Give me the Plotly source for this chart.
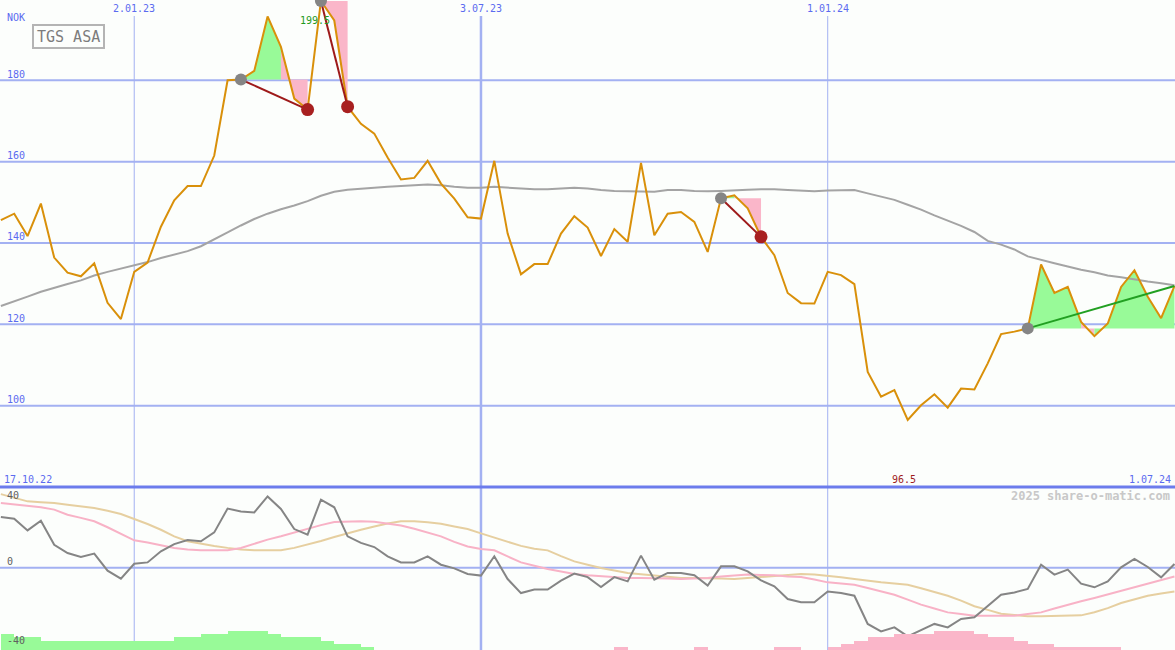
#!/usr/bin/env python3
"""
TGS ASA weekly chart in the share-o-matic style
"""

import pandas as pd
import plotly.graph_objs as go

# weekly closes (NOK), first week 24.10.22
dates = pd.date_range("2022-10-24", periods=89, freq="7D")

price = [
    145.6, 147.2, 141.7, 149.7, 136.4, 132.7, 131.8, 135.0, 125.3, 121.3,
    132.9, 135.2, 144.0, 150.5, 154.0, 154.0, 161.5, 180.0, 180.2, 182.3,
    195.7, 188.2, 175.5, 172.8, 199.5, 194.7, 173.5, 169.3, 166.9, 161.0,
    155.6, 156.0, 160.2, 154.6, 150.9, 146.3, 146.0, 160.2, 142.3, 132.3,
    134.8, 134.8, 142.3, 146.6, 143.8, 136.8, 143.4, 140.3, 159.7, 141.9,
    147.2, 147.6, 145.2, 137.8, 151.0, 151.7, 148.5, 141.5, 137.0, 127.7,
    125.2, 125.1, 132.9, 132.1, 129.9, 108.3, 102.2, 103.8, 96.5, 100.1,
    102.8, 99.5, 104.2, 104.0, 110.4, 117.6, 118.2, 119.0, 134.7, 127.7,
    129.2, 120.6, 117.1, 120.2, 129.2, 133.3, 126.8, 121.5, 129.4,
]

# moving average
ma = [
    124.5, 125.6, 126.8, 128.0, 129.0, 129.9, 130.8, 132.0, 132.9, 133.7,
    134.5, 135.3, 136.3, 137.2, 138.0, 139.2, 140.8, 142.6, 144.3, 145.9,
    147.2, 148.3, 149.2, 150.3, 151.6, 152.6, 153.1, 153.4, 153.6, 153.8,
    154.0, 154.2, 154.4, 154.2, 153.8, 153.6, 153.6, 153.8, 153.6, 153.4,
    153.2, 153.2, 153.4, 153.6, 153.4, 153.0, 152.8, 152.7, 152.7, 152.6,
    153.0, 153.0, 152.8, 152.7, 152.8, 153.0, 153.1, 153.2, 153.2, 153.0,
    152.8, 152.7, 152.9, 153.0, 153.0, 152.2, 151.4, 150.6, 149.4, 148.2,
    146.8, 145.6, 144.2, 142.7, 140.5, 139.6, 138.4, 136.7, 135.8, 135.0,
    134.2, 133.4, 132.8, 132.0, 131.6, 131.0, 130.5, 130.1, 129.6,
]

# lower panel indicator
osc = [
    30.7, 29.7, 22.6, 28.5, 13.9, 8.9, 6.5, 8.5, -1.8, -6.7,
    2.4, 3.2, 9.9, 14.3, 16.8, 16.0, 21.4, 35.8, 34.1, 33.5,
    43.2, 35.6, 23.4, 20.0, 41.2, 36.6, 19.0, 15.0, 12.5, 6.9,
    3.2, 3.2, 6.9, 1.8, -0.4, -3.8, -4.8, 6.9, -6.9, -15.4,
    -13.3, -13.3, -7.9, -3.6, -5.7, -11.7, -5.7, -8.3, 7.3, -7.3,
    -3.2, -3.2, -4.6, -10.9, 0.8, 0.8, -2.2, -7.7, -11.3, -19.0,
    -21.0, -21.0, -14.4, -15.4, -17.0, -34.1, -38.6, -36.2, -41.6, -37.6,
    -34.1, -36.2, -31.1, -30.1, -23.0, -16.4, -15.0, -12.9, 1.8, -4.2,
    -1.2, -9.7, -11.9, -8.3, 0.2, 5.3, 0.4, -5.9, 2.2,
]

osc_fast = [
    39.2, 38.4, 37.6, 36.6, 35.2, 32.1, 30.2, 28.1, 24.5, 20.5,
    16.6, 15.3, 13.5, 11.9, 11.0, 10.5, 10.5, 10.5, 11.9, 14.5,
    17.0, 19.0, 21.3, 23.5, 25.8, 27.7, 28.1, 28.1, 27.8, 26.8,
    25.6, 23.6, 21.4, 19.0, 15.6, 12.8, 11.3, 10.5, 6.8, 3.2,
    1.2, -0.8, -2.3, -3.8, -4.6, -5.3, -5.8, -6.3, -6.3, -6.3,
    -6.6, -6.9, -6.6, -6.3, -5.3, -4.8, -4.2, -4.4, -4.6, -5.3,
    -5.7, -7.2, -8.9, -9.6, -10.3, -12.3, -14.4, -16.4, -19.4, -22.4,
    -24.7, -27.1, -28.1, -29.1, -29.1, -29.1, -29.1, -28.1, -27.1, -24.7,
    -22.4, -20.4, -18.4, -16.2, -13.9, -11.6, -9.3, -7.3, -5.3,
]

osc_slow = [
    44.6, 42.4, 40.2, 39.7, 39.2, 38.2, 37.2, 36.2, 34.5, 32.5,
    29.5, 26.5, 23.0, 19.0, 16.0, 14.5, 13.2, 12.0, 11.0, 10.5,
    10.5, 10.5, 12.0, 13.9, 16.2, 18.6, 21.0, 23.0, 25.0, 26.8,
    28.1, 28.1, 27.6, 26.6, 25.0, 23.4, 20.8, 18.3, 15.7, 13.2,
    11.5, 10.5, 7.0, 3.8, 1.8, -0.2, -1.7, -3.2, -4.0, -4.8,
    -5.6, -6.3, -6.3, -6.3, -6.6, -6.9, -6.3, -5.7, -5.0, -4.2,
    -3.8, -4.2, -4.8, -5.8, -6.8, -7.9, -8.9, -9.6, -10.3, -12.5,
    -14.8, -17.0, -20.0, -23.4, -25.6, -27.9, -28.7, -29.5, -29.4, -29.2,
    -29.0, -28.9, -27.0, -24.5, -21.4, -19.0, -17.0, -15.6, -14.4,
]

# trend histogram (signed levels)
hist = (
    [5, 4, 4] + [3] * 10 + [4, 4, 5, 5, 6, 6, 6, 5, 4, 4, 4, 3, 2, 2, 1]
    + [0] * 18 + [-1] + [0] * 5 + [-1] + [0] * 5 + [-1, -1, 0, 0]
    + [-1, -2, -3, -4, -4, -5, -5, -5, -6, -6, -6, -5, -4, -4, -3, -2, -2]
    + [-1] * 5 + [0] * 5
)

# signals: entry week, exit week (last one still open)
sig_entry = [18, 24, 54, 77]
sig_exit = [23, 26, 57, 88]
sig_open = [False, False, False, True]

price_ticks = [100, 120, 140, 160, 180]
date_ticks = ["2023-01-02", "2023-07-03", "2024-01-01"]
date_labels = ["2.01.23", "3.07.23", "1.01.24"]
date_widths = [1, 2.5, 1]
osc_ticks = [40, 0, -40]
osc_label_y = [40, 0, -48.0]

W, H = 1175, 650
SPLIT = (H - 487) / H
BLUE_GRID = "#a3b1f2"
BLUE_TEXT = "#5b6bf0"
GREEN = "#98fa98"
PINK = "#fab6c9"
MONO = "DejaVu Sans Mono"

fig = go.Figure()

# gain / loss fills for each signal
for e, x in zip(sig_entry, sig_exit):
    level = price[e]
    runs = []
    for i in range(e, x):
        up = price[i + 1] >= level
        if runs and runs[-1][0] == up:
            runs[-1][2] = i + 1
        else:
            runs.append([up, i, i + 1])
    for up, a, b in runs:
        xs = [dates[a]] + list(dates[a:b + 1]) + [dates[b]]
        ys = [level] + price[a:b + 1] + [level]
        fig.add_trace(go.Scatter(
            x=xs, y=ys, fill="toself", mode="lines",
            line=dict(width=0), fillcolor=GREEN if up else PINK,
            hoverinfo="skip", showlegend=False
        ))

fig.add_trace(go.Scatter(
    x=dates, y=ma, mode="lines", line=dict(color="#a4a4a4", width=2),
    showlegend=False, name="MA"
))
fig.add_trace(go.Scatter(
    x=dates, y=price, mode="lines", line=dict(color="#d9900a", width=2),
    showlegend=False, name="TGS ASA"
))

for e, x, op in zip(sig_entry, sig_exit, sig_open):
    fig.add_trace(go.Scatter(
        x=[dates[e], dates[x]], y=[price[e], price[x]], mode="lines",
        line=dict(color="#22a022" if op else "#9e1a1a", width=2),
        showlegend=False, hoverinfo="skip"
    ))
    fig.add_trace(go.Scatter(
        x=[dates[e]], y=[price[e]], mode="markers",
        marker=dict(color="#858585", size=12), showlegend=False
    ))
    if not op:
        fig.add_trace(go.Scatter(
            x=[dates[x]], y=[price[x]], mode="markers",
            marker=dict(color="#a82020", size=13), showlegend=False
        ))

# lower panel
fig.add_trace(go.Bar(
    x=dates, y=[abs(h) for h in hist], offset=0, width=7 * 86400000,
    marker=dict(color=[GREEN if h > 0 else PINK for h in hist], line=dict(width=0)),
    xaxis="x2", yaxis="y3", showlegend=False, hoverinfo="skip"
))
fig.add_trace(go.Scatter(
    x=dates, y=osc_slow, mode="lines", line=dict(color="#e6cfa0", width=2),
    xaxis="x2", yaxis="y2", showlegend=False
))
fig.add_trace(go.Scatter(
    x=dates, y=osc_fast, mode="lines", line=dict(color="#f8b2c6", width=2),
    xaxis="x2", yaxis="y2", showlegend=False
))
fig.add_trace(go.Scatter(
    x=dates, y=osc, mode="lines", line=dict(color="#858585", width=2),
    xaxis="x2", yaxis="y2", showlegend=False
))

shapes = []
for v in price_ticks:
    shapes.append(dict(type="line", xref="paper", yref="y", x0=0, x1=1, y0=v, y1=v,
                       line=dict(color=BLUE_GRID, width=2), layer="below"))
shapes.append(dict(type="line", xref="paper", yref="y2", x0=0, x1=1, y0=0, y1=0,
                   line=dict(color=BLUE_GRID, width=2), layer="below"))
for d, w in zip(date_ticks, date_widths):
    shapes.append(dict(type="line", xref="x", yref="paper", x0=d, x1=d, y0=0, y1=1 - 16 / H,
                       line=dict(color=BLUE_GRID, width=w), layer="below"))
shapes.append(dict(type="line", xref="paper", yref="paper", x0=0, x1=1, y0=SPLIT, y1=SPLIT,
                   line=dict(color="#6c7cec", width=3)))
shapes.append(dict(type="rect", xref="paper", yref="paper",
                   x0=33 / W, x1=104 / W, y0=1 - 48 / H, y1=1 - 25 / H,
                   line=dict(color="#b4b4b4", width=2), fillcolor="rgba(0,0,0,0)"))

ann = []


def label(text, x, y, color=BLUE_TEXT, size=10, xanchor="left", xref="paper", yref="paper",
          yshift=0, xshift=0, bold=False):
    ann.append(dict(text=f"<b>{text}</b>" if bold else text, x=x, y=y, xref=xref, yref=yref,
                    xanchor=xanchor, yanchor="middle", showarrow=False, xshift=xshift,
                    yshift=yshift, font=dict(family=MONO, size=size, color=color)))


label("NOK", 5 / W, 1 - 18 / H)
for v in price_ticks:
    label(str(v), 5 / W, v, yref="y", yshift=6)
for d, t in zip(date_ticks, date_labels):
    label(t, d, 1 - 9 / H, xref="x", xanchor="center")
label("17.10.22", 2 / W, 1 - 479 / H)
label("1.07.24", 1173 / W, 1 - 479 / H, xanchor="right")
label(f"{max(price):.1f}", dates[price.index(max(price))], 1 - 21 / H,
      color="#1f9a1f", xref="x", xanchor="center", xshift=-6)
label(f"{min(price):.1f}", dates[price.index(min(price))], 1 - 479 / H,
      color="#a01c1c", xref="x", xanchor="center", xshift=-4)
for v, yv in zip(osc_ticks, osc_label_y):
    label(str(v), 5 / W, yv, color="#606060", yref="y2", yshift=6)
label("2025 share-o-matic.com", 1172 / W, 1 - 496 / H, color="#c8c8c8", size=12,
      xanchor="right", bold=True)
label("TGS ASA", 68.5 / W, 1 - 37 / H, color="#7c7c7c", size=15, xanchor="center")

hidden = dict(showgrid=False, zeroline=False, showticklabels=False, ticks="", showline=False)
x_range = ["2022-10-23 13:00", "2024-07-01 07:00"]

fig.update_layout(
    width=W, height=H,
    margin=dict(l=0, r=0, t=0, b=0),
    paper_bgcolor="#fcfefc", plot_bgcolor="#fcfefc",
    showlegend=False, bargap=0,
    xaxis=dict(type="date", range=x_range, domain=[0, 1], anchor="y", **hidden),
    xaxis2=dict(type="date", range=x_range, domain=[0, 1], anchor="y2", matches="x", **hidden),
    yaxis=dict(range=[80, 199.74], domain=[SPLIT, 1], anchor="x", **hidden),
    yaxis2=dict(range=[-49.9, 48.9], domain=[0, SPLIT], anchor="x2", **hidden),
    yaxis3=dict(range=[0, 52], overlaying="y2", anchor="x2", **hidden),
    shapes=shapes,
    annotations=ann,
)

# page body has an 8px default margin; drop it so the chart fills the window
fig.write_html("out.html", config={"displayModeBar": False},
               post_script="document.body.style.margin='0';"
                           "document.body.style.overflow='hidden';")
